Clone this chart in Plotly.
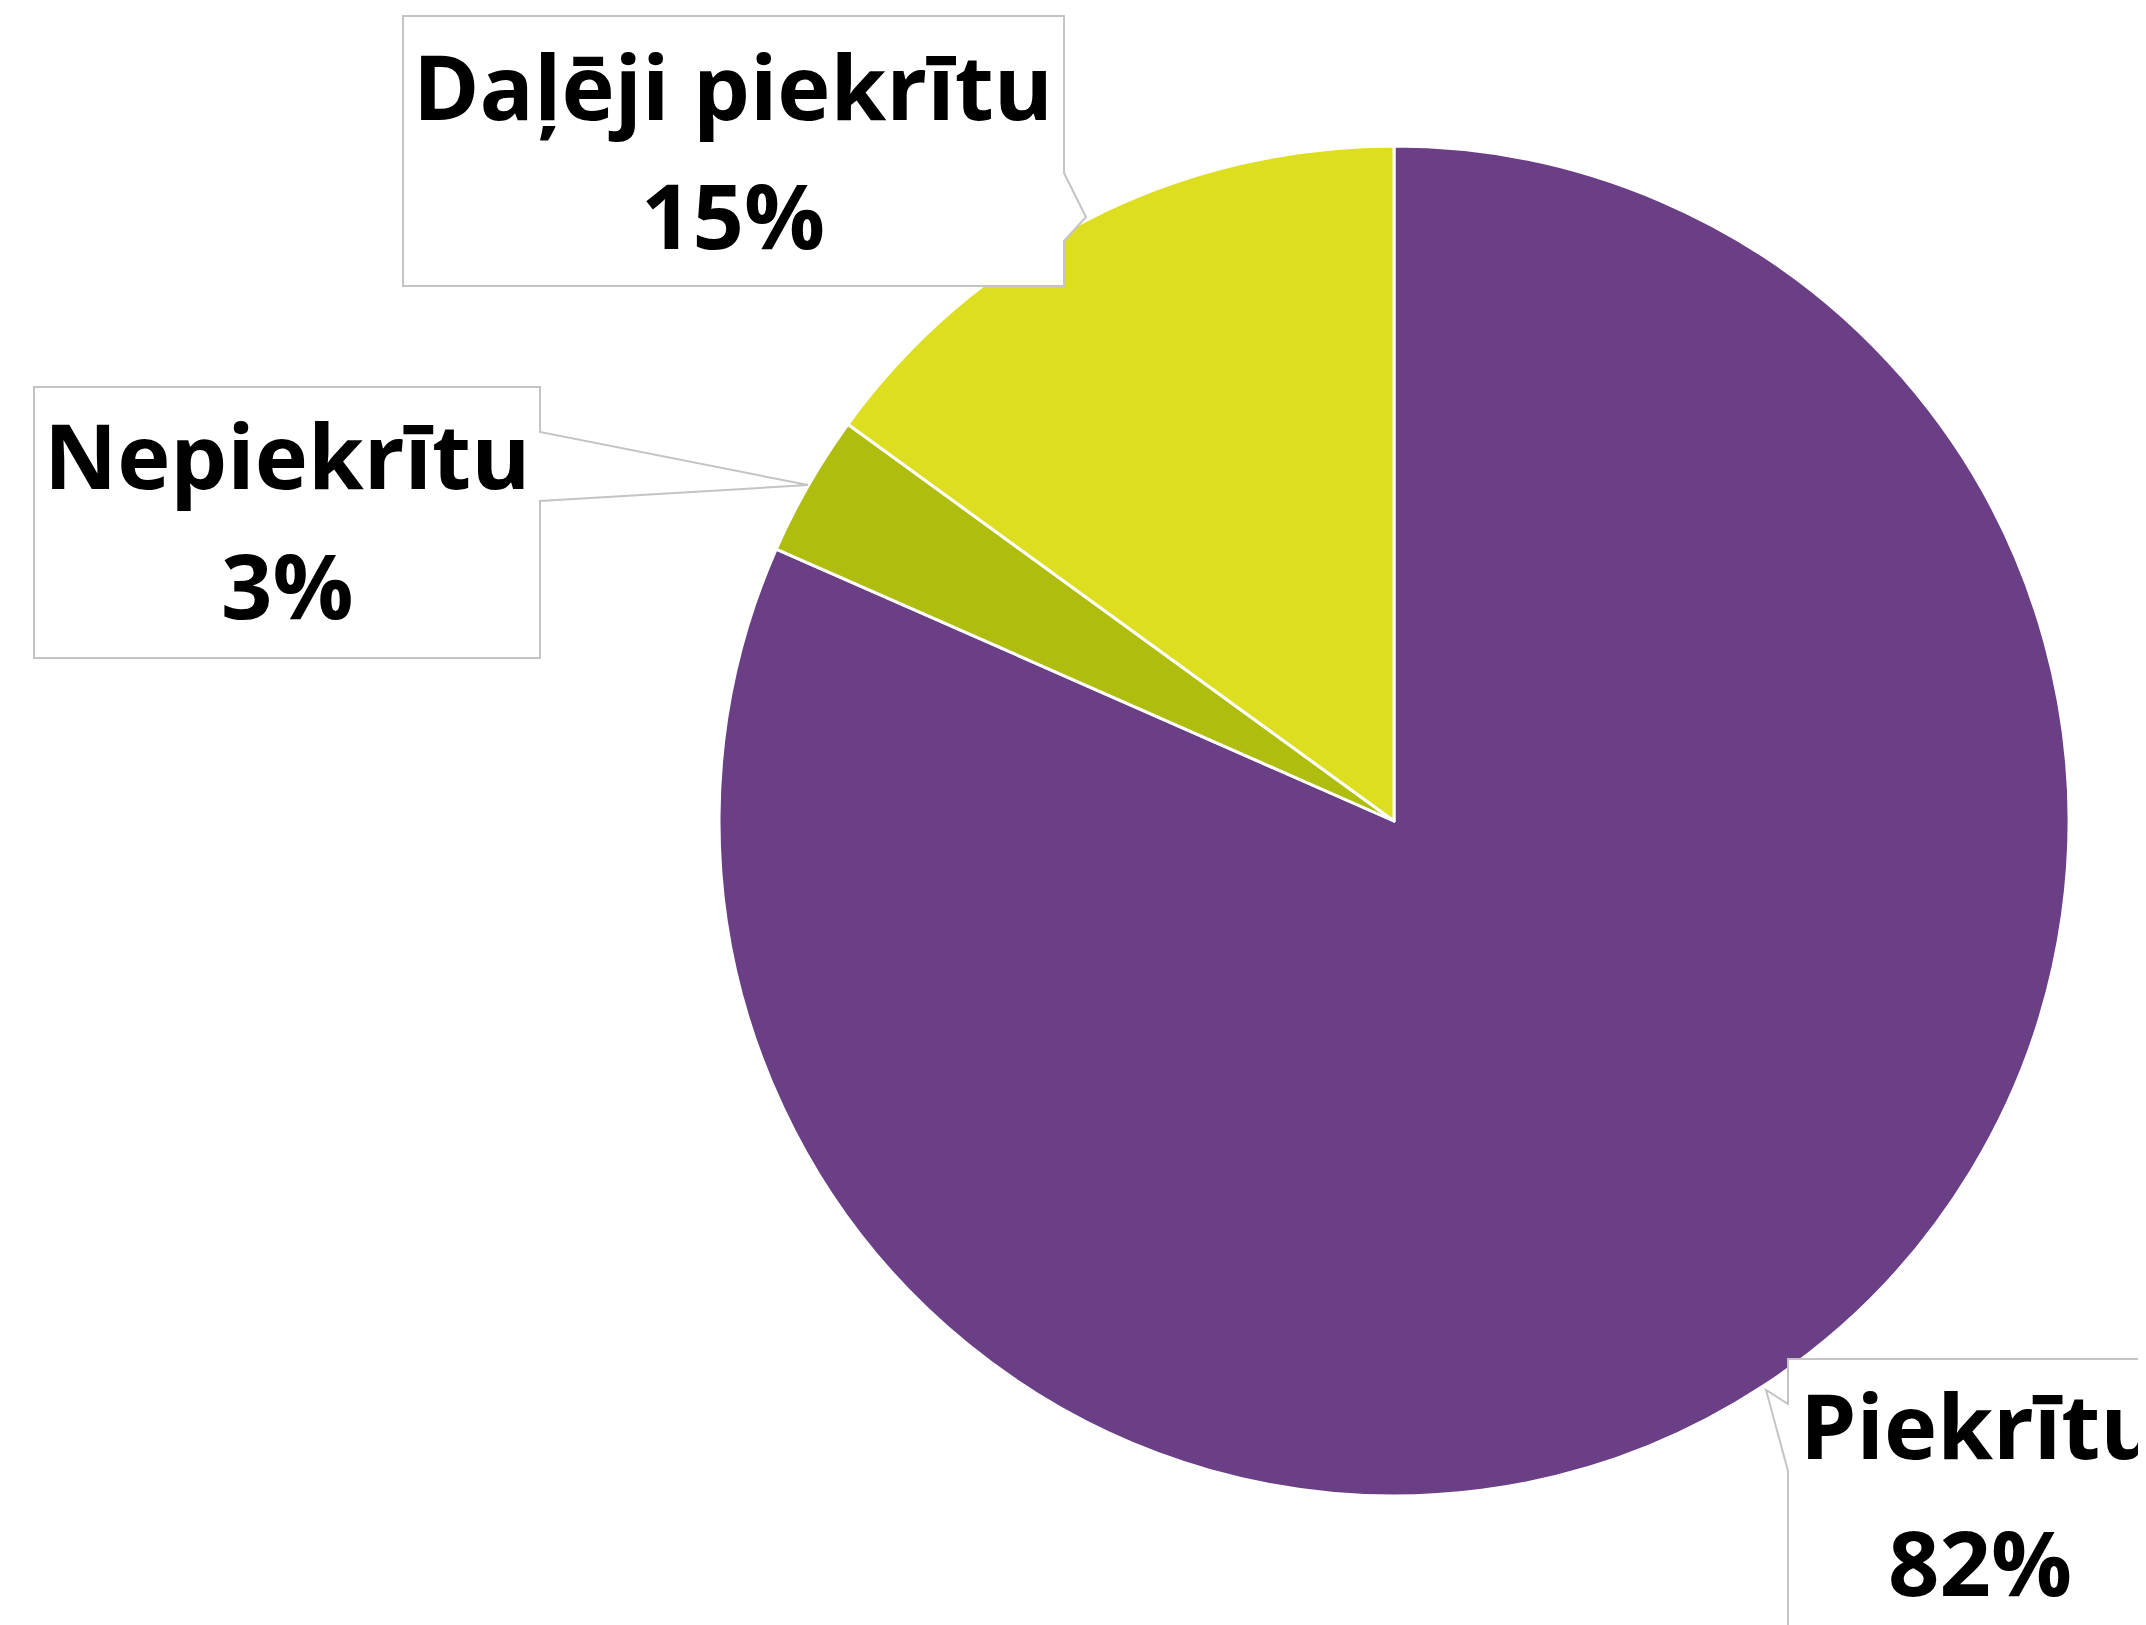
import plotly.graph_objects as go

# ---- data ----
labels = ["Piekrītu", "Nepiekrītu", "Daļēji piekrītu"]
values = [81.6, 3.4, 15.0]
colors = ["#6A3F86", "#AFBD0E", "#DDDE20"]

W, H = 2146, 1625

def px(x):
    return x / W

def py(y):
    return 1 - y / H

# callout layout (pixels)
callouts = [
    # Piekrītu
    dict(box=(1780, 1351, 2170, 1640), side="left", a=1396, b=1463, tip=(1758, 1382),
         line1=1416, line2=1553, cx=1972),
    # Nepiekrītu
    dict(box=(26, 379, 532, 650), side="right", a=424, b=493, tip=(800, 477),
         line1=446, line2=576, cx=279),
    # Daļēji piekrītu
    dict(box=(395, 8, 1056, 278), side="right", a=165, b=233, tip=(1078, 209),
         line1=77, line2=206, cx=725),
]

cx0, cy0, r0 = 1386, 813, 675

fig = go.Figure()
fig.add_trace(go.Pie(
    labels=labels, values=values, sort=False, direction="clockwise", rotation=0,
    marker=dict(colors=colors, line=dict(color="white", width=3)),
    textinfo="none", hoverinfo="label+percent", showlegend=False,
    domain=dict(x=[px(cx0 - r0), px(cx0 + r0)], y=[py(cy0 + r0), py(cy0 - r0)]),
))

shapes = []
annotations = []
font = dict(family="Open Sans, sans-serif", size=90, color="black", weight="bold")
total = sum(values)
for lab, val, c in zip(labels, values, callouts):
    x0, y0, x1, y1 = c["box"]
    tx, ty = c["tip"]
    if c["side"] == "right":
        pts = [(x0, y0), (x1, y0), (x1, c["a"]), (tx, ty), (x1, c["b"]), (x1, y1), (x0, y1)]
    else:
        pts = [(x0, y0), (x1, y0), (x1, y1), (x0, y1), (x0, c["b"]), (tx, ty), (x0, c["a"])]
    path = "M " + " L ".join(f"{px(x):.5f},{py(y):.5f}" for x, y in pts) + " Z"
    shapes.append(dict(type="path", path=path, xref="paper", yref="paper",
                       fillcolor="white", line=dict(color="#C4C4C4", width=2), layer="above"))
    annotations.append(dict(text=lab, x=px(c["cx"]), y=py(c["line1"]), xref="paper", yref="paper",
                            xanchor="center", yanchor="middle", showarrow=False, font=font))
    annotations.append(dict(text=f"{round(val / total * 100)}%", x=px(c["cx"]), y=py(c["line2"]),
                            xref="paper", yref="paper", xanchor="center", yanchor="middle",
                            showarrow=False, font=font))

fig.update_layout(width=W, height=H, margin=dict(l=0, r=0, t=0, b=0),
                  paper_bgcolor="white", plot_bgcolor="white",
                  shapes=shapes, annotations=annotations)
fig.write_html("out.html")
